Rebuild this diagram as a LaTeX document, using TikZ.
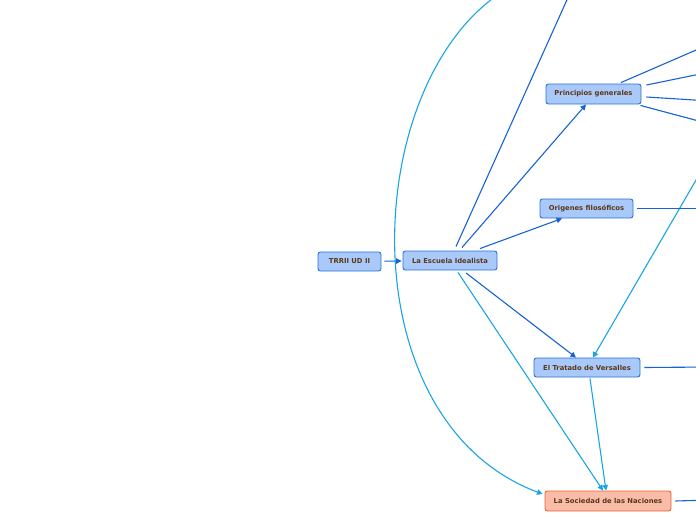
\documentclass[tikz,border=0pt]{standalone}
\usepackage{fontspec}
\setmainfont{DejaVu Sans}
\usetikzlibrary{arrows.meta}
\definecolor{boxfill}{HTML}{A8C9FA}
\definecolor{boxborder}{HTML}{2B6FD8}
\definecolor{txt}{HTML}{5C3817}
\definecolor{salfill}{HTML}{F9BCA8}
\definecolor{salborder}{HTML}{EF5F2C}
\definecolor{darkln}{HTML}{1762D4}
\definecolor{lightln}{HTML}{18A4E6}
\begin{document}
\begin{tikzpicture}[x=1pt,y=-1pt,
  box/.style={draw=boxborder, fill=boxfill, rounded corners=2.5pt, line width=0.9pt, text=txt,
    font=\bfseries\fontsize{6.8}{8}\selectfont, inner sep=0pt},
  salbox/.style={box, draw=salborder, fill=salfill},
  dk/.style={draw=darkln, line width=1.1pt},
  lt/.style={draw=lightln, line width=1.1pt},
  arr/.style={-{Triangle[length=5.5pt,width=5.5pt]}}]
\useasboundingbox (0,0) rectangle (696,520);

\node[box, minimum width=63pt, minimum height=19pt] (tr) at (349.5,261.5) {TRRII UD II};
\node[box, minimum width=94pt, minimum height=19pt] (esc) at (450,260.5) {La Escuela Idealista};
\node[box, minimum width=95pt, minimum height=20pt] (pg) at (593.5,94) {Principios generales};
\node[box, minimum width=93pt, minimum height=19pt] (of) at (586.5,208.5) {Origenes filosóficos};
\node[box, minimum width=106pt, minimum height=19pt] (tv) at (587,367.5) {El Tratado de Versalles};
\node[salbox, minimum width=126pt, minimum height=20pt] (sn) at (608,501) {La Sociedad de las Naciones};

\coordinate (top1) at (575,-18);
\coordinate (top2) at (505,-10);
\coordinate (c1) at (360,80);
\coordinate (c2) at (345,420);
\coordinate (r1) at (710,44);
\coordinate (r2) at (710,72);
\coordinate (r3) at (710,101);
\coordinate (r4) at (710,124);
\coordinate (r5) at (710,208.5);
\coordinate (r6) at (710,367);
\coordinate (r7) at (710,500);
\coordinate (r8) at (710,156);

\draw[dk,arr,shorten <=3pt,shorten >=1pt] (tr) -- (esc);
\draw[dk,arr] ([xshift=12pt,yshift=3pt]esc.north) -- ([xshift=-7.5pt]pg.south);
\draw[dk,arr] ([xshift=30pt,yshift=2pt]esc.north) -- ([xshift=-24.5pt]of.south);
\draw[dk,arr] ([xshift=16pt,yshift=-2.5pt]esc.south) -- ([xshift=-11pt]tv.north);
\draw[dk] ([xshift=6pt,yshift=4pt]esc.north) -- (top1);
\draw[lt,arr] ([xshift=8pt,yshift=-2pt]esc.south) -- ([xshift=-5pt]sn.north);
\draw[lt,arr] ([xshift=3pt,yshift=-1pt]tv.south) -- ([xshift=-2pt]sn.north);
\draw[lt,arr] (r8) -- ([xshift=6pt]tv.north);
\draw[lt,arr] (top2) .. controls (c1) and (c2) .. ([xshift=-2pt,yshift=7pt]sn.west);

\draw[dk] ([xshift=27.5pt,yshift=1pt]pg.north) -- (r1);
\draw[dk] ([xshift=5pt,yshift=9pt]pg.east) -- (r2);
\draw[dk] ([xshift=5pt,yshift=-3pt]pg.east) -- (r3);
\draw[dk] ([xshift=-1pt,yshift=-1pt]pg.south east) -- (r4);
\draw[dk] ([xshift=4pt]of.east) -- (r5);
\draw[dk] ([xshift=4pt]tv.east) -- (r6);
\draw[dk] ([xshift=4pt]sn.east) -- (r7);
\end{tikzpicture}
\end{document}
